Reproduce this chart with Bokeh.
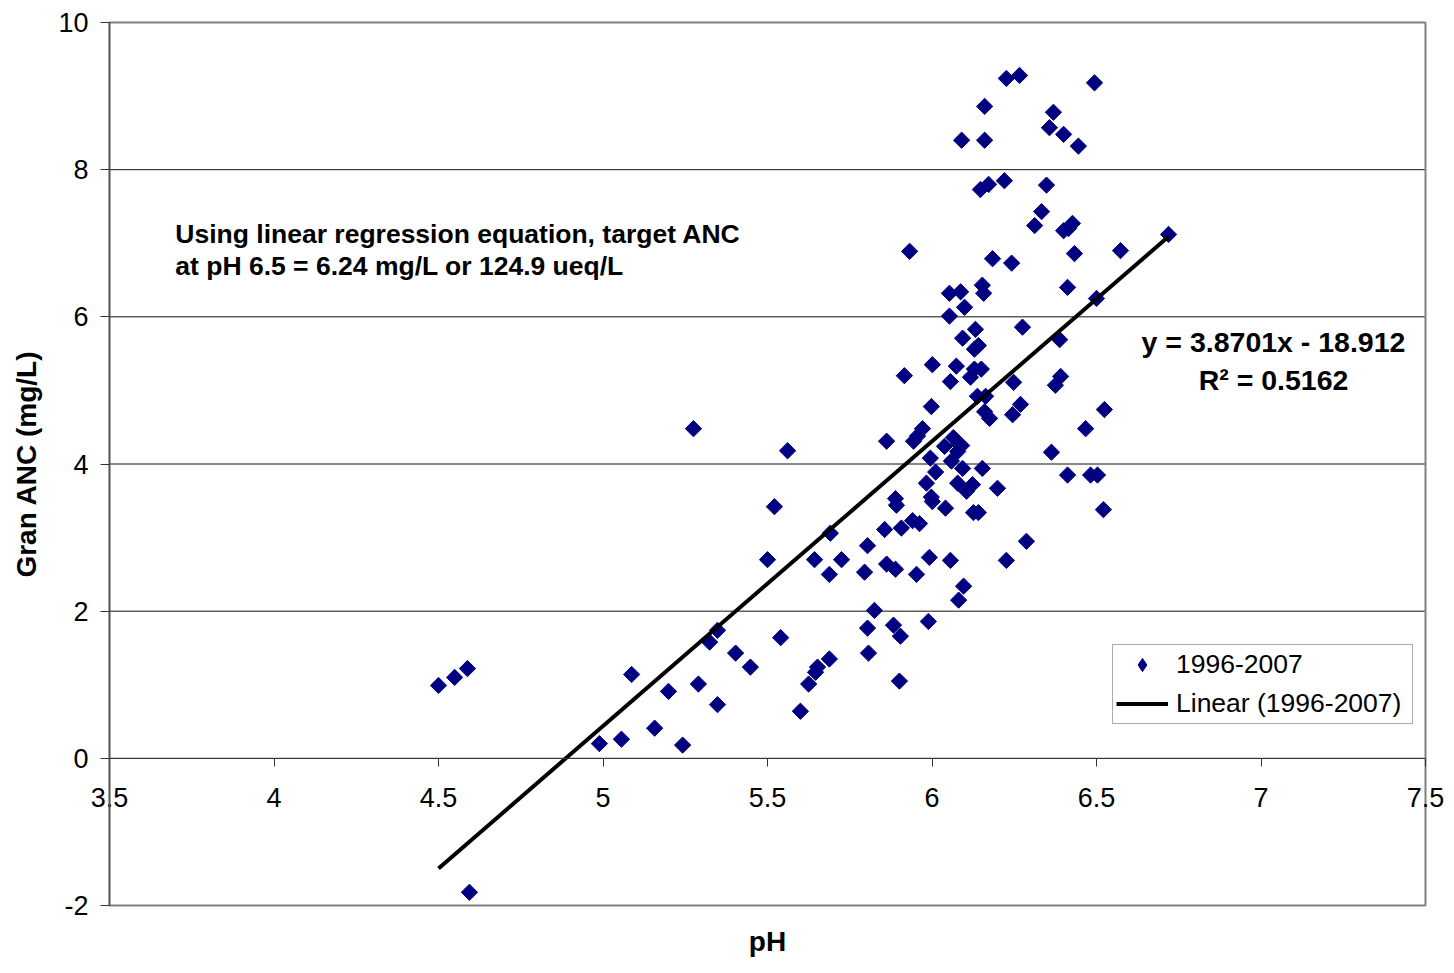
import numpy as np
from bokeh.plotting import figure
from bokeh.models import (Label, Legend, LegendItem, Range1d, FixedTicker,
                          ColumnDataSource, CDSView, IndexFilter)
from bokeh.embed import file_html
from bokeh.resources import INLINE

# ---- data ----
ph = [4.50, 4.549, 4.588, 4.594, 4.989, 5.056, 5.087, 5.157, 5.199, 5.242,
      5.275, 5.290, 5.324, 5.348, 5.348, 5.403, 5.448, 5.500, 5.521, 5.540,
      5.561, 5.600, 5.625, 5.646, 5.652, 5.643, 5.688, 5.688, 5.691, 5.725,
      5.795, 5.804, 5.804, 5.807, 5.825, 5.856, 5.862, 5.862, 5.883, 5.889,
      5.889, 5.892, 5.901, 5.904, 5.907, 5.916, 5.932, 5.941, 5.944, 5.953,
      5.956, 5.962, 5.971, 5.983, 5.989, 5.992, 5.995, 5.998, 5.998, 6.001,
      6.001, 6.011, 6.038, 6.041, 6.053, 6.053, 6.056, 6.056, 6.059, 6.065,
      6.074, 6.078, 6.078, 6.081, 6.081, 6.087, 6.090, 6.093, 6.090, 6.093,
      6.096, 6.099, 6.105, 6.117, 6.123, 6.126, 6.129, 6.129, 6.132, 6.138,
      6.141, 6.141, 6.147, 6.150, 6.153, 6.153, 6.157, 6.160, 6.160, 6.160,
      6.163, 6.172, 6.175, 6.184, 6.199, 6.220, 6.226, 6.226, 6.242, 6.245,
      6.248, 6.266, 6.269, 6.275, 6.287, 6.312, 6.333, 6.348, 6.357, 6.363,
      6.369, 6.375, 6.388, 6.391, 6.400, 6.400, 6.412, 6.412, 6.415, 6.427,
      6.433, 6.445, 6.467, 6.482, 6.494, 6.500, 6.503, 6.521, 6.524, 6.573,
      6.719]
anc = [0.99, 1.10, 1.22, -1.82, 0.20, 0.26, 1.14, 0.41, 0.91, 0.18,
       4.48, 1.01, 1.58, 1.74, 0.73, 1.43, 1.24, 2.70, 3.42, 1.64,
       4.18, 0.64, 1.01, 1.17, 1.24, 2.70, 1.35, 2.50, 3.06, 2.70,
       2.53, 2.89, 1.77, 1.43, 2.01, 3.11, 4.31, 2.64, 1.81, 3.53,
       2.57, 3.44, 1.05, 1.66, 3.13, 5.20, 6.89, 3.23, 4.31, 2.50,
       4.38, 3.19, 4.48, 3.74, 1.86, 2.73, 4.08, 4.78, 3.55, 3.49,
       5.35, 3.89, 4.24, 3.40, 6.32, 6.01, 5.12, 2.69, 4.04, 4.36,
       5.33, 4.17, 3.74, 4.27, 2.15, 6.34, 8.40, 3.94, 4.25, 5.71,
       2.34, 6.13, 3.63, 5.18, 3.72, 3.34, 5.56, 5.29, 5.83, 4.92,
       5.61, 3.34, 7.73, 5.29, 3.94, 6.43, 6.32, 8.86, 8.40, 4.71,
       4.92, 7.80, 4.62, 6.79, 3.67, 7.85, 9.24, 2.69, 6.73, 4.67,
       5.11, 9.28, 4.81, 5.86, 2.95, 7.24, 7.43, 7.79, 8.57, 4.16,
       8.78, 5.07, 5.69, 5.19, 8.48, 7.17, 6.40, 3.85, 7.20, 7.27,
       6.86, 8.32, 4.48, 3.85, 9.18, 6.25, 3.85, 3.38, 4.74, 6.90,
       7.12]
slope = 3.8701
intercept = -18.912
r_squared = 0.5162
series_name = "1996-2007"
trend_name = "Linear (1996-2007)"
x_ticks = [3.5, 4, 4.5, 5, 5.5, 6, 6.5, 7, 7.5]
x_tick_labels = ["3.5", "4", "4.5", "5", "5.5", "6", "6.5", "7", "7.5"]
y_ticks = [-2, 0, 2, 4, 6, 8, 10]
y_tick_labels = ["-2", "0", "2", "4", "6", "8", "10"]
x_title = "pH"
y_title = "Gran ANC (mg/L)"
note_lines = ["Using linear regression equation, target ANC",
              "at pH 6.5 = 6.24 mg/L or 124.9 ueq/L"]

FONT = "Liberation Sans"
NAVY = "#000080"
X0, X1 = x_ticks[0], x_ticks[-1]
Y0, Y1 = y_ticks[0], y_ticks[-1]
PX_X = 329.0   # pixels per pH unit
PX_Y = 73.6    # pixels per mg/L

# The drawing frame covers the whole figure; the visible plot box is drawn
# inside it so that the crossing axes keep their end labels and the titles fit.
p = figure(width=1446, height=957,
           x_range=Range1d(X0 - 109 / PX_X, X1 + 21 / PX_X),
           y_range=Range1d(Y0 - 52 / PX_Y, Y1 + 22 / PX_Y),
           output_backend="svg", toolbar_location=None,
           min_border_left=0, min_border_right=0,
           min_border_top=0, min_border_bottom=0)
p.background_fill_color = "white"
p.border_fill_color = "white"
p.outline_line_color = None
p.xgrid.visible = False
p.ygrid.visible = False

# horizontal gridlines over the plot box
p.segment(x0=[X0] * len(y_ticks), x1=[X1] * len(y_ticks), y0=y_ticks,
          y1=y_ticks, line_color="#111111", line_width=1)
# plot box border
p.quad(left=[X0], right=[X1], bottom=[Y0], top=[Y1], fill_color=None,
       line_color="#808080", line_width=2)

# y axis at x = 3.5
ya = p.yaxis[0]
ya.fixed_location = X0
ya.bounds = (Y0, Y1)
ya.ticker = FixedTicker(ticks=y_ticks)
ya.major_label_overrides = {t: l for t, l in zip(y_ticks, y_tick_labels)}
ya.major_label_text_font = FONT
ya.major_label_text_font_size = "27px"
ya.major_label_text_color = "black"
ya.major_tick_out = 9
ya.major_tick_in = 0
ya.minor_tick_line_color = None
ya.major_tick_line_color = "#333333"
ya.axis_line_color = "#555555"
ya.axis_line_width = 1.5
ya.major_label_standoff = 12

# x axis crossing at y = 0
xa = p.xaxis[0]
xa.fixed_location = 0
xa.bounds = (X0, X1)
xa.ticker = FixedTicker(ticks=x_ticks)
xa.major_label_overrides = {t: l for t, l in zip(x_ticks, x_tick_labels)}
xa.major_label_text_font = FONT
xa.major_label_text_font_size = "27px"
xa.major_label_text_color = "black"
xa.major_tick_out = 8
xa.major_tick_in = 0
xa.minor_tick_line_color = None
xa.major_tick_line_color = "#333333"
xa.axis_line_color = "#333333"
xa.axis_line_width = 1
xa.major_label_standoff = 22

# data
src = ColumnDataSource(dict(x=ph, y=anc))
pts = p.scatter("x", "y", source=src, marker="square", size=11.5,
                angle=np.pi / 4, fill_color=NAVY, line_color=NAVY)
# legend swatch: a diamond hidden under the first data marker
swatch = p.scatter("x", "y", source=src, marker="diamond", size=8,
                   view=CDSView(filter=IndexFilter(indices=[0])),
                   fill_color=NAVY, line_color=NAVY)

xs = np.array([min(ph), max(ph)])
trend = p.line(xs, slope * xs + intercept, line_color="black", line_width=4)

# texts
def note(x, y, text, size, align, angle=0.0):
    p.add_layout(Label(x=x, y=y, text=text, text_font=FONT,
                       text_font_size=size, text_font_style="bold",
                       text_color="black", text_baseline="middle",
                       text_align=align, angle=angle))

note(3.70, 7.12, note_lines[0], "26.5px", "left")
note(3.70, 6.685, note_lines[1], "26.5px", "left")
note(7.038, 5.66, f"y = {slope}x - {abs(intercept)}", "28.5px", "center")
note(7.038, 5.136, f"R\u00b2 = {r_squared}", "28.5px", "center")
note((X0 + X1) / 2, Y0 - 36 / PX_Y, x_title, "28px", "center")
note(X0 - 83 / PX_X, (Y0 + Y1) / 2, y_title, "28px", "center", np.pi / 2)

legend = Legend(items=[LegendItem(label=series_name, renderers=[swatch]),
                       LegendItem(label=trend_name, renderers=[trend])],
                location=(1112, 233), margin=0, padding=3, spacing=6,
                glyph_width=52, glyph_height=33, label_height=33,
                label_width=233, label_standoff=8, label_text_font=FONT,
                label_text_font_size="26.5px", label_text_color="black",
                border_line_color="#555555", border_line_width=1,
                background_fill_color="white", background_fill_alpha=1)
p.add_layout(legend, "center")

open("out.html", "w").write(file_html(p, INLINE))
